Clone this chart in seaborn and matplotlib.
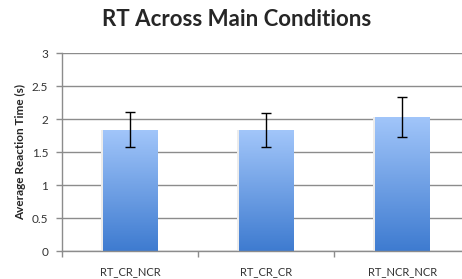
import numpy as np
import pandas as pd
import seaborn as sns
import matplotlib.pyplot as plt
from matplotlib.colors import LinearSegmentedColormap

# values
conditions = ['RT_CR_NCR', 'RT_CR_CR', 'RT_NCR_NCR']
mean_rt = [1.84, 1.83, 2.03]
err_rt = [0.26, 0.26, 0.30]
yticks = [0, 0.5, 1, 1.5, 2, 2.5, 3]

df = pd.DataFrame({'cond': conditions, 'rt': mean_rt})

sns.set_style('white')
plt.rcParams['font.family'] = ['Lato', 'DejaVu Sans']

fig = plt.figure(figsize=(4.62, 2.79), dpi=100)
ax = fig.add_axes([62 / 462, 0.10, 1 - 62 / 462, 0.71])

sns.barplot(data=df, x='cond', y='rt', width=0.4, errorbar=None,
            color='#6b9fe6', ax=ax, zorder=2)

# gradient fill for bars, light on top, darker at bottom
cmap = LinearSegmentedColormap.from_list('bar', ['#3e7bd0', '#a2c6fa'])
grad = np.linspace(0, 1, 256).reshape(-1, 1)
for p in ax.patches:
    x0, y0 = p.get_x(), p.get_y()
    w, h = p.get_width(), p.get_height()
    # faint shadow on the left
    ax.add_patch(plt.Rectangle((x0 - 0.015, y0), 0.015, h, color='#ececec',
                               lw=0, zorder=1.5))
    im = ax.imshow(grad, cmap=cmap, origin='lower', aspect='auto',
                   extent=[x0, x0 + w, y0, y0 + h], zorder=2)
    im.set_clip_path(p)
    p.set_facecolor('none')
    p.set_edgecolor('none')

ax.errorbar(range(len(conditions)), mean_rt, yerr=err_rt, fmt='none',
            ecolor='black', elinewidth=1, capsize=3.5, capthick=1, zorder=3)

ax.set_xlim(-0.5, 2.44)
ax.set_ylim(0, 3)
ax.set_yticks(yticks)
ax.set_yticklabels(['0', '0.5', '1', '1.5', '2', '2.5', '3'])
ax.yaxis.grid(True, color='#8c8c8c', lw=1)
ax.set_axisbelow(True)

# category boundary ticks like the original
ax.set_xticks([-0.5, 0.5, 1.5], minor=True)
ax.tick_params(axis='x', which='major', length=0, pad=11, labelsize=8,
               labelcolor='#333333')
ax.tick_params(axis='x', which='minor', length=4, color='#8c8c8c', width=1,
               bottom=True)
ax.tick_params(axis='y', length=4, color='#8c8c8c', width=1, left=True,
               labelsize=8.5, labelcolor='#333333', pad=6)

for s in ['top', 'right']:
    ax.spines[s].set_visible(False)
for s in ['left', 'bottom']:
    ax.spines[s].set_color('#8c8c8c')
    ax.spines[s].set_linewidth(1)

ax.set_xlabel('')
ax.set_ylabel('Average Reaction Time (s)', fontsize=8.5, fontweight='bold',
              labelpad=4)
fig.text(237 / 462, 1 - 20 / 279, 'RT Across Main Conditions', ha='center',
         va='center', fontsize=16, fontweight='bold')

fig.savefig('out.png', dpi=100)
